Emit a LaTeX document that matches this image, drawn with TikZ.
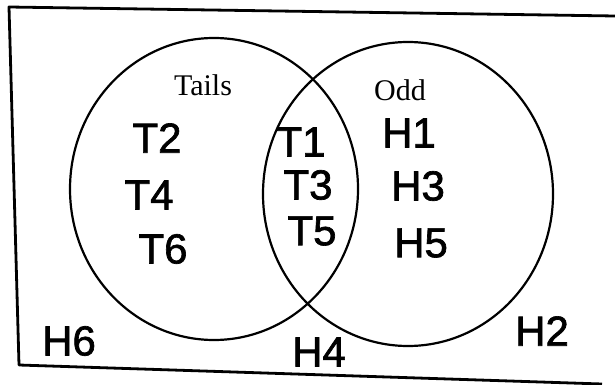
\documentclass[tikz,border=0pt]{standalone}
\usepackage{fontspec}
\setmainfont{Liberation Serif}
\newfontfamily\handfont[FakeBold=1.6]{Liberation Sans}
\usetikzlibrary{shapes.geometric}

\tikzset{
  frame/.style={line width=2.8pt, line join=round},
  setring/.style={ellipse, draw, line width=2.2pt, inner sep=0pt},
  setlabel/.style={inner sep=0pt, font=\fontsize{30}{31}\selectfont},
  element/.style={inner sep=0pt, font=\handfont\fontsize{42}{44}\selectfont}
}

\begin{document}
\begin{tikzpicture}[x=1pt, y=-1pt]
  \useasboundingbox (0,0) rectangle (615,385);

  % sample space frame (open on the right)
  \draw[frame] (615,16) -- (9,7) -- (19,365) -- (602,384);

  % the two events
  \node[setring, minimum width=288pt, minimum height=302pt] (tails) at (214,189) {};
  \node[setring, minimum width=290pt, minimum height=304pt] (odd) at (408,194) {};

  % event names
  \node[setlabel] (tailsname) at (203,85) {Tails};
  \node[setlabel] (oddname) at (400,90) {Odd};

  % tails only
  \node[element] (t2) at (157,138) {T2};
  \node[element] (t4) at (149,195) {T4};
  \node[element] (t6) at (163,249) {T6};

  % tails and odd
  \node[element] (t1) at (301,142) {T1};
  \node[element] (t3) at (308,185) {T3};
  \node[element] (t5) at (312,231) {T5};

  % odd only
  \node[element] (h1) at (409,133) {H1};
  \node[element] (h3) at (418,186) {H3};
  \node[element] (h5) at (421,243) {H5};

  % neither
  \node[element] (h6) at (69,341) {H6};
  \node[element] (h4) at (319,352) {H4};
  \node[element] (h2) at (542,331) {H2};
\end{tikzpicture}
\end{document}
